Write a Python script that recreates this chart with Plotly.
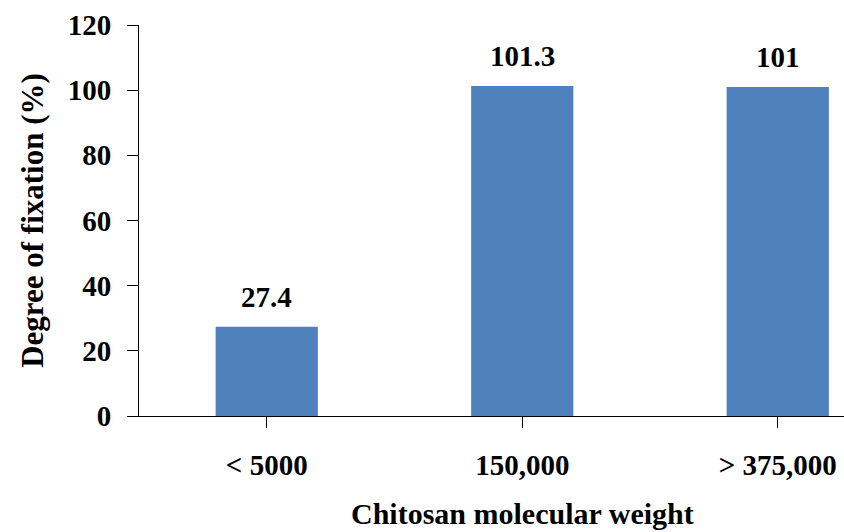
import plotly.graph_objects as go

# Degree of fixation by chitosan molecular weight
categories = ["< 5000", "150,000", "> 375,000"]
fixation = [27.4, 101.3, 101]
value_labels = ["27.4", "101.3", "101"]

y_ticks = [0, 20, 40, 60, 80, 100, 120]

FONT = "'Liberation Serif', 'Times New Roman', 'DejaVu Serif', serif"
BAR_COLOR = "#4F81BD"

fig = go.Figure()
fig.add_trace(go.Bar(
    x=list(range(len(categories))),
    y=fixation,
    width=0.4,
    marker=dict(color=BAR_COLOR, line=dict(width=0)),
    hoverinfo="skip",
))

# value labels above each bar
for i, (v, lab) in enumerate(zip(fixation, value_labels)):
    fig.add_annotation(
        x=i, y=v, text=f"<b>{lab}</b>", showarrow=False,
        xref="x", yref="y", yanchor="bottom", yshift=12,
        font=dict(family=FONT, size=29, color="black"),
    )

# x-axis title centred under the middle category
fig.add_annotation(
    x=1, y=0, xref="x", yref="paper",
    yanchor="bottom", yshift=-116,
    text="<b>Chitosan molecular weight</b>", showarrow=False,
    font=dict(family=FONT, size=30, color="black"),
)

fig.update_layout(
    width=844, height=532,
    margin=dict(l=139, r=0, t=25, b=116),
    paper_bgcolor="white", plot_bgcolor="white",
    showlegend=False,
    bargap=0.6,
    font=dict(family=FONT, color="black"),
)

fig.update_xaxes(
    range=[-0.5, -0.5 + 705 / 255.5],
    tickmode="array",
    tickvals=list(range(len(categories))),
    ticktext=[f"<b>{c}</b>" for c in categories],
    tickson="boundaries",
    ticks="outside", ticklen=11, tickcolor="black", tickwidth=1,
    showline=True, linecolor="black", linewidth=1,
    showgrid=False, zeroline=False,
    tickfont=dict(family=FONT, size=29, color="black"),
    ticklabelstandoff=12,
)

fig.update_yaxes(
    range=[0, 120],
    tickmode="array",
    tickvals=y_ticks,
    ticktext=[f"<b>{t}</b>" for t in y_ticks],
    ticks="outside", ticklen=11, tickcolor="black", tickwidth=1,
    showline=True, linecolor="black", linewidth=1,
    showgrid=False, zeroline=False,
    tickfont=dict(family=FONT, size=29, color="black"),
    ticklabelstandoff=10,
    title=dict(text="<b>Degree of fixation (%)</b>",
               font=dict(family=FONT, size=31, color="black"),
               standoff=14),
)

fig.write_html("out.html")
